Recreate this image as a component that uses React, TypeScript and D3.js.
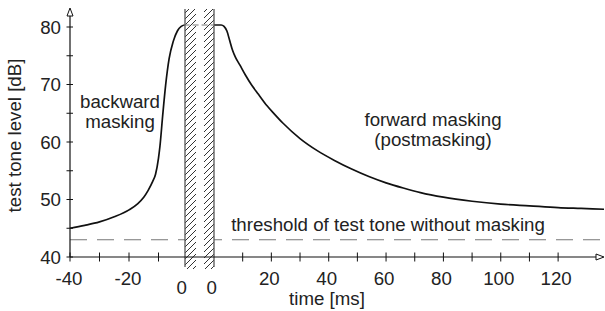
import React from "react";
import * as d3 from "d3";

// ---- data ----
const backwardT = [-40, -35, -30, -25, -20, -17, -15, -13.5, -12, -11, -10, -9.5, -8.6, -7.6, -6.4, -5, -3.6, -2.3, -1, 0];
const backwardDB = [45.0, 45.5, 46.1, 47.0, 48.2, 49.3, 50.4, 51.6, 53.1, 54.4, 57.2, 59.3, 64.5, 69.8, 74.5, 77.5, 79.3, 80.1, 80.35, 80.35];
const forwardT = [0, 2.5, 3.5, 4.5, 5.5, 6.5, 7.5, 9, 11, 13, 15.5, 18.5, 21, 24, 30, 36, 42, 48, 54, 60, 66, 72, 80, 90, 100, 110, 120, 128, 136];
const forwardDB = [80.35, 80.35, 80.1, 79.3, 77.6, 75.9, 74.7, 73.4, 71.6, 70.0, 68.3, 66.3, 64.9, 63.3, 60.6, 58.5, 56.8, 55.3, 54.0, 52.9, 52.0, 51.2, 50.4, 49.7, 49.2, 48.9, 48.6, 48.45, 48.3];
const thresholdDB = 43;
const maskerLevel = 80.35;
const yTicks = [40, 45, 50, 55, 60, 65, 70, 75, 80];
const yTickLabels = [40, 50, 60, 70, 80];
const leftTicks = [-40, -30, -20, -10];
const leftTickLabels = [-40, -20];
const rightTicks = [10, 20, 30, 40, 50, 60, 70, 80, 90, 100, 110, 120];
const rightTickLabels = [20, 40, 60, 80, 100, 120];

const W = 605, H = 311;
const FONT = "'Liberation Sans', Arial, Helvetica, sans-serif";
const FS = 18.7;
const TXT = "#222";

export default function App() {
  const y = d3.scaleLinear().domain([40, 80]).range([257, 27]);
  const xL = d3.scaleLinear().domain([-40, 0]).range([70, 188]);
  const xR = d3.scaleLinear().domain([0, 136]).range([214, 604]);

  const axisX = 70, axisY = y(40);
  const band1 = [185, 196];
  const band2 = [204, 214];
  const bandTop = 9, bandBot = 269;

  const lineL = d3.line<number>().x((d) => xL(backwardT[d])).y((d) => y(backwardDB[d])).curve(d3.curveMonotoneX);
  const lineR = d3.line<number>().x((d) => xR(forwardT[d])).y((d) => y(forwardDB[d])).curve(d3.curveMonotoneX);
  const pathL = lineL(d3.range(backwardT.length)) || "";
  const pathR = lineR(d3.range(forwardT.length)) || "";

  return (
    <svg width={W} height={H} style={{ position: "absolute", left: 0, top: 0, background: "#fff" }} fontFamily={FONT}>
      <defs>
        <pattern id="hatch" patternUnits="userSpaceOnUse" width={6} height={6}>
          <path d="M-1,7 L7,-1 M-1,1 L1,-1 M5,7 L7,5" stroke="#333" strokeWidth={1} />
        </pattern>
      </defs>
      <rect width={W} height={H} fill="#fff" />

      {/* threshold dashed line */}
      <line x1={axisX} x2={604} y1={y(thresholdDB)} y2={y(thresholdDB)} stroke="#777" strokeWidth={1.2} strokeDasharray="17,10" />

      {/* curves */}
      <path d={pathL} fill="none" stroke="#111" strokeWidth={1.7} />
      <path d={pathR} fill="none" stroke="#111" strokeWidth={1.7} />

      {/* masker bands */}
      {[band1, band2].map((b, i) => (
        <g key={i}>
          <rect x={b[0]} y={bandTop} width={b[1] - b[0]} height={bandBot - bandTop} fill="#fff" />
          <rect x={b[0]} y={bandTop} width={b[1] - b[0]} height={bandBot - bandTop} fill="url(#hatch)" />
        </g>
      ))}
      <line x1={band1[0]} x2={band1[0]} y1={bandTop} y2={bandBot - 2} stroke="#555" strokeWidth={1.3} />
      <line x1={band2[1]} x2={band2[1]} y1={bandTop} y2={bandBot - 2} stroke="#555" strokeWidth={1.3} />

      {/* 80 dB dashed connector */}
      <line x1={xL(-1.5)} x2={xR(0)} y1={y(maskerLevel)} y2={y(maskerLevel)} stroke="#777" strokeWidth={1.1} strokeDasharray="6,3" />

      {/* y axis */}
      <line x1={axisX} x2={axisX} y1={axisY} y2={16} stroke="#111" strokeWidth={1.2} />
      <path d={`M${axisX - 3},16 L${axisX},8 L${axisX + 3},16 Z`} fill="#fff" stroke="#111" strokeWidth={1} />
      {yTicks.map((t) => (
        <line key={t} x1={axisX - 3.5} x2={axisX + 3} y1={y(t)} y2={y(t)} stroke="#111" strokeWidth={1} />
      ))}
      {yTickLabels.map((t) => (
        <text key={t} x={61} y={y(t)} dy="0.36em" textAnchor="end" fontSize={FS} fill={TXT}>{t}</text>
      ))}
      <text transform={`translate(21,135.5) rotate(-90)`} textAnchor="middle" fontSize={FS} fill={TXT}>test tone level [dB]</text>

      {/* x axis */}
      <line x1={axisX} x2={596} y1={axisY} y2={axisY} stroke="#111" strokeWidth={1.2} />
      <path d={`M596,${axisY - 3} L604,${axisY} L596,${axisY + 3} Z`} fill="#fff" stroke="#111" strokeWidth={1} />
      {leftTicks.map((t) => (
        <line key={t} x1={xL(t)} x2={xL(t)} y1={axisY - 4.5} y2={axisY + 4.5} stroke="#111" strokeWidth={1} />
      ))}
      {rightTicks.map((t) => (
        <line key={t} x1={xR(t)} x2={xR(t)} y1={axisY - 4.5} y2={axisY + 4.5} stroke="#111" strokeWidth={1} />
      ))}
      {leftTickLabels.map((t) => (
        <text key={t} x={xL(t) - 1} y={285} textAnchor="middle" fontSize={FS} fill={TXT}>{t}</text>
      ))}
      {rightTickLabels.map((t) => (
        <text key={t} x={xR(t) - 2} y={285} textAnchor="middle" fontSize={FS} fill={TXT}>{t}</text>
      ))}
      <text x={band1[0] - 3.3} y={294} textAnchor="middle" fontSize={FS} fill={TXT}>0</text>
      <text x={band2[1] - 2.3} y={294} textAnchor="middle" fontSize={FS} fill={TXT}>0</text>
      <text x={327} y={305} textAnchor="middle" fontSize={FS} fill={TXT}>time [ms]</text>

      {/* annotations */}
      <text x={120} y={107.5} textAnchor="middle" fontSize={FS} fill={TXT}>backward</text>
      <text x={120} y={127.5} textAnchor="middle" fontSize={FS} fill={TXT}>masking</text>
      <text x={433} y={126} textAnchor="middle" fontSize={FS} fill={TXT}>forward masking</text>
      <text x={433} y={146} textAnchor="middle" fontSize={FS} fill={TXT}>(postmasking)</text>
      <text x={388} y={231} textAnchor="middle" fontSize={FS} fill={TXT}>threshold of test tone without masking</text>
    </svg>
  );
}
